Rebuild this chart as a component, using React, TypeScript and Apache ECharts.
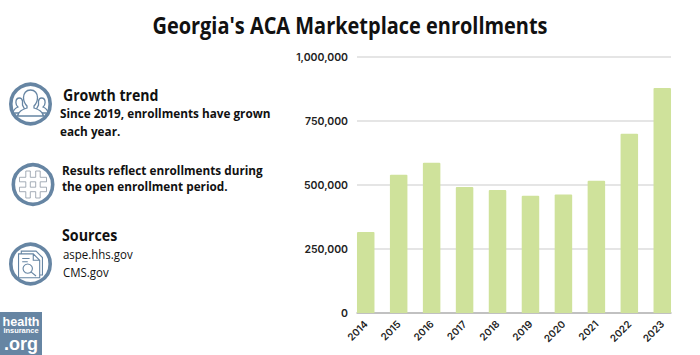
import React, { useEffect, useRef } from "react";
import * as echarts from "echarts";

const title = "Georgia's ACA Marketplace enrollments";
const years = ["2014","2015","2016","2017","2018","2019","2020","2021","2022","2023"];
const enrollments = [316000,540000,587000,492000,480000,458000,463000,517000,700000,879000];
const yTicks = [0,250000,500000,750000,1000000];

const BLUE = "#6685a3";
const BODY = "Open Sans";

echarts.graphic.registerShape("personSide", echarts.graphic.extendPath(
  "M7 12C4.8 12 3.4 14 3.4 16.4C3.4 18.4 4.4 20 5.4 21C3 22 0.8 23.5 0.6 27L9 27L12 23L10 19L10 15C9.6 13 8.6 12 7 12Z" +
  "M29 12C31.2 12 32.6 14 32.6 16.4C32.6 18.4 31.6 20 30.6 21C33 22 35.2 23.5 35.4 27L27 27L24 23L26 19L26 15C26.4 13 27.4 12 29 12Z", {}) as any);
echarts.graphic.registerShape("personMain", echarts.graphic.extendPath(
  "M18 4C13.5 4 11 7.5 11 11.5C11 15.5 13 18.5 14.5 20L14.5 22C10 23.5 6 25 5 30L31 30C30 25 26 23.5 21.5 22L21.5 20C23 18.5 25 15.5 25 11.5C25 7.5 22.5 4 18 4Z", {}) as any);
echarts.graphic.registerShape("hashIcon", echarts.graphic.extendPath(
  "M10 3L15 3L15 10L21 10L21 3L26 3L26 10L33 10L33 15L26 15L26 21L33 21L33 26L26 26L26 33L21 33L21 26L15 26L15 33L10 33L10 26L3 26L3 21L10 21L10 15L3 15L3 10L10 10ZM15 15L15 21L21 21L21 15Z", {}) as any);
echarts.graphic.registerShape("docIcon", echarts.graphic.extendPath(
  "M8 7L8 4L24 4L31 11L31 30L28 30M5 7L21 7L28 14L28 33L5 33ZM21 7L21 14L28 14M9 12L17 12M9 15.5L15 15.5" +
  "M15 18A5 5 0 1 1 14.99 18ZM18.5 26.5L24 31", {}) as any);

function textEl(x: number, y: number, text: string, size: number, weight: number | string, scaleX = 1) {
  return {
    type: "text", x, y, scaleX,
    style: { text, fontFamily: BODY, fontSize: size, fontWeight: weight, fill: "#111", textAlign: "left", textVerticalAlign: "middle" },
  };
}
function ring(cx: number, cy: number) {
  return { type: "circle", shape: { cx, cy, r: 19.7 }, style: { fill: "#fff", stroke: BLUE, lineWidth: 3.6 } };
}
function glyph(cx: number, cy: number, shape: string, s: number, style: any) {
  return { type: shape, x: cx - 18 * s, y: cy - 18 * s, scaleX: s, scaleY: s, style };
}
function logoText(y: number, text: string, size: number, scaleX: number, scaleY: number) {
  return {
    type: "text", x: 21, y, scaleX, scaleY,
    style: { text, fontFamily: "Liberation Sans", fontWeight: 700, fontSize: size, fill: "#fff", textAlign: "center", textVerticalAlign: "middle" },
  };
}

export default function App() {
  const ref = useRef<HTMLDivElement>(null);
  useEffect(() => {
    const chart = echarts.init(ref.current!, null, { renderer: "svg" });
    const axisFont = { fontFamily: "Inter", color: "#222", fontWeight: 600 };
    const outline = { fill: "#fff", stroke: BLUE, lineWidth: 1.3 };
    chart.setOption({
      animation: false,
      backgroundColor: "#fff",
      grid: [
        { left: 357, top: 57, width: 314, height: 256, containLabel: false },
        { left: 349.25, top: 57, width: 329.5, height: 256, containLabel: false },
      ],
      xAxis: [
        { type: "category", gridIndex: 0, data: years, axisTick: { show: false }, axisLabel: { show: false },
          axisLine: { show: true, lineStyle: { color: "#b5b5b5", width: 1.5 } }, splitLine: { show: false } },
        { type: "category", gridIndex: 1, data: years, axisTick: { show: false }, axisLine: { show: false }, splitLine: { show: false },
          axisLabel: { ...axisFont, fontSize: 10, rotate: 45, margin: 9, interval: 0 } },
      ],
      yAxis: [
        { type: "value", gridIndex: 0, min: 0, max: 1000000, interval: 250000,
          axisLine: { show: false }, axisTick: { show: false },
          splitLine: { show: true, lineStyle: { color: "#dcdcdc", width: 1.5 } },
          axisLabel: { ...axisFont, fontSize: 10.5, margin: 9,
            customValues: yTicks,
            formatter: (v: number) => v.toLocaleString("en-US") } },
        { type: "value", gridIndex: 1, min: 0, max: 1000000, interval: 250000, show: false },
      ],
      series: [{
        type: "bar", xAxisIndex: 1, yAxisIndex: 1, data: enrollments, barWidth: 17.5,
        itemStyle: { color: "#cfe29b", borderRadius: [1, 1, 0, 0] }, z: 5,
      }],
      graphic: { elements: [
        { type: "text", x: 350, y: 25, scaleX: 0.868, style: { text: title, fontFamily: BODY, fontSize: 23, fontWeight: 700, fill: "#111", textAlign: "center", textVerticalAlign: "middle" } },
        ring(30.5, 104),
        glyph(30.5, 104, "personSide", 1, outline),
        glyph(30.5, 104, "personMain", 1, outline),
        textEl(63, 95, "Growth trend", 15.5, 700, 0.91),
        textEl(60, 113.5, "Since 2019, enrollments have grown", 12.4, 700, 0.95),
        textEl(60, 131.5, "each year.", 12.4, 700, 0.95),
        ring(33, 184.5),
        glyph(33, 184.5, "hashIcon", 0.9, { fill: "#fff", stroke: "#8f9aa6", lineWidth: 0.9 }),
        textEl(62, 170, "Results reflect enrollments during", 12.4, 700, 0.95),
        textEl(62, 186, "the open enrollment period.", 12.4, 700, 0.95),
        ring(30.5, 264),
        glyph(30.5, 264, "docIcon", 0.92, { fill: "none", stroke: BLUE, lineWidth: 1.2 }),
        textEl(62, 235, "Sources", 15.5, 700, 0.92),
        textEl(63, 253.5, "aspe.hhs.gov", 12.2, 400, 0.94),
        textEl(63, 271.5, "CMS.gov", 12.2, 400, 0.94),
        { type: "rect", shape: { x: 0, y: 312, width: 42, height: 43 }, style: { fill: BLUE } },
        logoText(321, "health", 12, 1.05, 1.1),
        logoText(331, "insurance", 6.5, 1.15, 1.1),
        logoText(344, ".org", 15, 1.2, 1.2),
      ] },
    });
    return () => chart.dispose();
  }, []);
  return <div ref={ref} style={{ position: "fixed", left: 0, top: 0, width: 700, height: 355 }} />;
}
